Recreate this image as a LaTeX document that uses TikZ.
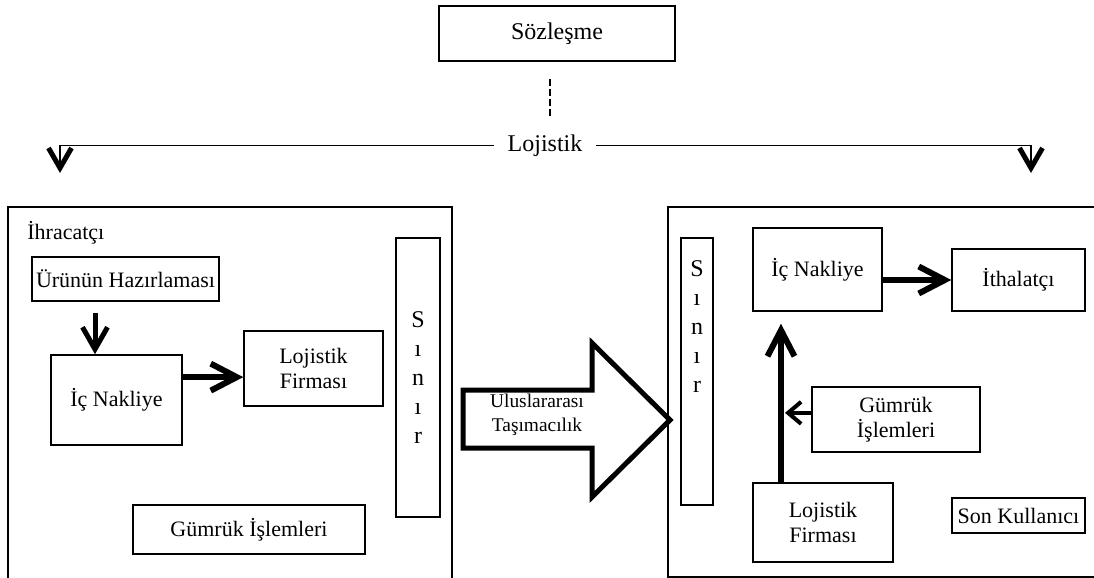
\documentclass[tikz,border=0pt]{standalone}
\usepackage{fontspec}
\setmainfont{Liberation Serif}
\usetikzlibrary{arrows.meta,calc}

\tikzset{
  kutu/.style={draw, line width=0.75pt, align=center, inner sep=1pt, font=\fontsize{11}{12.6}\selectfont},
  yazi/.style={align=center, inner sep=0pt, font=\fontsize{11}{12.6}\selectfont},
  harfler/.style={align=center, inner sep=0pt, font=\fontsize{12}{14.5}\selectfont},
  inceok/.style={line width=0.75pt, -{Straight Barb[length=10pt, width=11.5pt, line width=2.5pt]}},
  kalinok/.style={line width=3pt, -{Straight Barb[length=13pt, width=13.5pt, line width=3pt]}},
  asagiok/.style={line width=2.5pt, -{Straight Barb[length=11pt, width=12.5pt, line width=2.5pt]}},
  ortaok/.style={line width=1.7pt, -{Straight Barb[length=6.5pt, width=11pt, line width=2pt]}}
}

\begin{document}
\begin{tikzpicture}[x=0.5pt, y=-0.5pt]
\useasboundingbox (0,0) rectangle (1094,578);

\node[kutu, minimum width=118pt, minimum height=27.5pt, font=\fontsize{12}{14}\selectfont] (soz) at (557,33.5) {Sözleşme};
\node[yazi, inner xsep=6.8pt, font=\fontsize{12}{14}\selectfont] (loj) at (545,145.5) {Lojistik};
\coordinate (d1) at (550,79);
\coordinate (d2) at (550,117);
\coordinate (solok) at (60,173);
\coordinate (sagok) at (1031,173);

\draw[line width=0.75pt, dash pattern=on 3.5pt off 1.5pt] (d1) -- (d2);
\draw[inceok] (loj.west) -| (solok);
\draw[inceok] (loj.east) -| (sagok);

\node[kutu, minimum width=222pt, minimum height=191.5pt] (dissol) at (230,398.5) {};
\node[yazi, anchor=west] (ihr) at (27,233) {İhracatçı};
\node[kutu, minimum width=93.5pt, minimum height=22pt] (urun) at (125.5,279) {Ürünün Hazırlaması};
\node[kutu, minimum width=65.5pt, minimum height=45pt] (icn1) at (116.5,400) {İç Nakliye};
\node[kutu, minimum width=69.5pt, minimum height=37.5pt] (lf1) at (313.5,368.5) {Lojistik\\Firması};
\node[kutu, harfler, minimum width=22pt, minimum height=139.5pt] (sinir1) at (418,377.5) {S\\ı\\n\\ı\\r};
\node[kutu, minimum width=116pt, minimum height=24.5pt] (gum1) at (249,529.5) {Gümrük İşlemleri};

\coordinate (okx1) at (95,0);
\coordinate (k3) at ($(icn1.north east)!0.25!(icn1.south east)$);
\draw[asagiok, shorten <=5.5pt] (urun.south -| okx1) -- (icn1.north -| okx1);
\draw[kalinok] (k3) -- (k3 -| lf1.west);

\draw[line width=2.5pt, line join=miter] (463,390) -- (592,390) -- (592,343) -- (670,420) -- (592,497) -- (592,448) -- (463,448) -- cycle;
\node[yazi, font=\fontsize{9.7}{12}\selectfont] (tas) at (537,415) {Uluslararası\\Taşımacılık};

\node[kutu, minimum width=216pt, minimum height=185pt] (dissag) at (884,392) {};
\node[kutu, minimum width=16pt, minimum height=133.5pt] (sinir2) at (697,371.5) {};
\node[harfler] (sinir2yazi) at (697,326.5) {S\\ı\\n\\ı\\r};
\node[kutu, minimum width=64.5pt, minimum height=41.5pt] (icn2) at (817.5,269.5) {İç Nakliye};
\node[kutu, minimum width=66.5pt, minimum height=31pt] (ith) at (1018.5,280) {İthalatçı};
\node[kutu, minimum width=84pt, minimum height=32.5pt] (gum2) at (896,419.5) {Gümrük\\İşlemleri};
\node[kutu, minimum width=70pt, minimum height=39.5pt] (lf2) at (823,522.5) {Lojistik\\Firması};
\node[kutu, minimum width=66.5pt, minimum height=17.5pt] (son) at (1018.5,515.5) {Son Kullanıcı};

\coordinate (okx2) at (781,0);
\coordinate (g2) at ($(gum2.north west)!0.4!(gum2.south west)$);
\draw[kalinok] (ith.west -| icn2.east) -- (ith.west);
\draw[kalinok, shorten >=6pt] (lf2.north -| okx2) -- (icn2.south -| okx2);
\draw[ortaok, shorten >=2pt] (g2) -- (g2 -| okx2);
\end{tikzpicture}
\end{document}
